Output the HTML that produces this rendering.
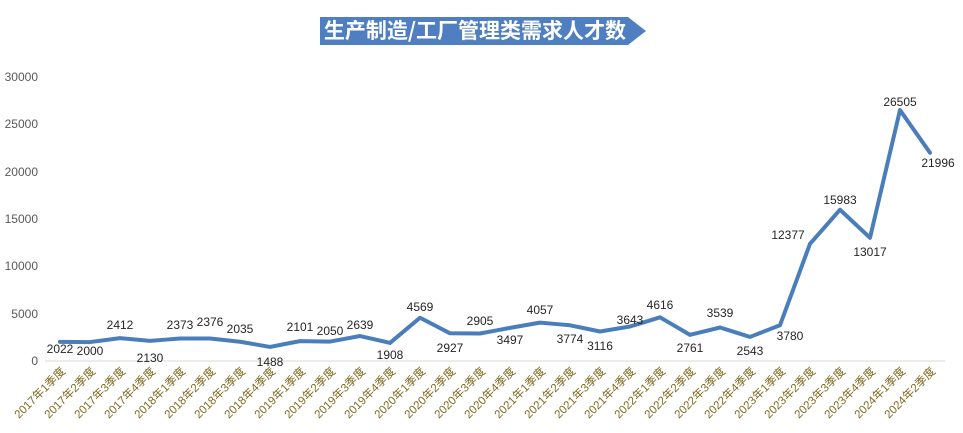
<!DOCTYPE html>
<html><head><meta charset="utf-8"><style>
body{margin:0;background:#fff;}
svg{display:block;font-family:"Liberation Sans","Noto Sans CJK SC",sans-serif;}
</style></head><body>
<svg width="963" height="433" viewBox="0 0 963 433" xmlns="http://www.w3.org/2000/svg">
<polygon points="320,17 628,17 646,31 628,45 320,45" fill="#4f7fc0"/>
<text x="475" y="38" text-anchor="middle" font-size="21" font-weight="bold" fill="#fff" font-family="'Noto Sans CJK SC',sans-serif">生产制造/工厂管理类需求人才数</text>
<g font-size="12" fill="#595959" text-anchor="end">
<text x="38" y="365">0</text>
<text x="38" y="318">5000</text>
<text x="38" y="270">10000</text>
<text x="38" y="223">15000</text>
<text x="38" y="176">20000</text>
<text x="38" y="128">25000</text>
<text x="38" y="81">30000</text>
</g>
<line x1="45" y1="361" x2="945" y2="361" stroke="#d9d9d9" stroke-width="1"/>
<g id="chart"></g>
</svg>
<script>
var d=[2022,2000,2412,2130,2373,2376,2035,1488,2101,2050,2639,1908,4569,2927,2905,3497,4057,3774,3116,3643,4616,2761,3539,2543,3780,12377,15983,13017,26505,21996];
var ly=[349,351,325,358,325,322,329,362,327,331,325,355,307,348,321,340,310,339,346,320,305,348,313,351,336,235,200,252,102,163];
var lx=[0,0,0,0,0,0,0,0,0,0,0,0,0,0,0,0,0,0,0,0,0,0,0,0,10,-22,0,0,0,8];
var g=document.getElementById('chart'),s="";
var pts=d.map(function(v,i){return [60+i*30,361-v*284/30000];});
var p="M"+pts[0][0]+","+pts[0][1];
for(var i=1;i<pts.length;i++){var a=pts[i-1],b=pts[i],c=(b[0]-a[0])/8;
p+=" C"+(a[0]+c)+","+(a[1]+(b[1]-a[1])/8)+" "+(b[0]-c)+","+(b[1]-(b[1]-a[1])/8)+" "+b[0]+","+b[1];}
s+='<path d="'+p+'" fill="none" stroke="#4a7ebb" stroke-width="4" stroke-linejoin="round" stroke-linecap="round"/>';
var q=["1","2","3","4"];
for(var i=0;i<d.length;i++){
 s+='<text x="'+(pts[i][0]+lx[i])+'" y="'+(ly[i]+4)+'" font-size="12" fill="#262626" text-anchor="middle">'+d[i]+'</text>';
 var yr=2017+Math.floor(i/4),lab=yr+"年"+q[i%4]+"季度";
 s+='<text transform="translate('+(pts[i][0]+6)+',372) rotate(-45)" font-size="11.5" fill="#7f6a1f" text-anchor="end">'+lab+'</text>';
}
g.innerHTML=s;
</script>
</body></html>
